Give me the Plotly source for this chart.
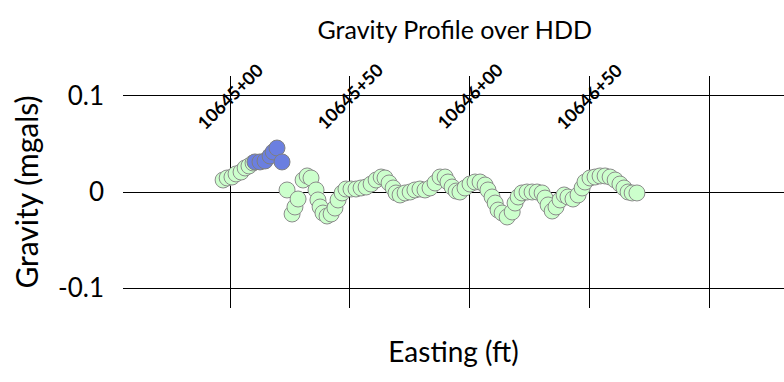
import plotly.graph_objects as go

# Station gridlines (ft) and their chainage labels
station_ft = [1064500, 1064550, 1064600, 1064650, 1064700]
station_labels = ["10645+00", "10645+50", "10646+00", "10646+50"]

# Gravity readings along the profile
easting_main = [
    1064497.1, 1064498.8, 1064500.8, 1064502.5, 1064504.6, 1064506.3, 1064507.9, 1064509.6,
    1064523.8, 1064525.9, 1064527.1, 1064528.4, 1064530.5, 1064532.2, 1064533.8, 1064535.9,
    1064536.7, 1064537.6, 1064538.8, 1064540.5, 1064542.2, 1064543.8, 1064545.1, 1064546.8,
    1064548.4, 1064550.5, 1064552.6, 1064554.7, 1064556.8, 1064558.9, 1064561.0, 1064563.1,
    1064564.7, 1064566.4, 1064568.1, 1064569.3, 1064571.0, 1064573.1, 1064575.2, 1064577.2,
    1064579.3, 1064581.4, 1064583.5, 1064585.6, 1064587.7, 1064589.8, 1064591.0, 1064592.7,
    1064594.4, 1064596.0, 1064598.1, 1064600.2, 1064602.3, 1064604.4, 1064606.5, 1064607.7,
    1064609.4, 1064610.7, 1064611.9, 1064613.6, 1064615.7, 1064617.8, 1064619.0, 1064620.3,
    1064621.9, 1064624.0, 1064626.1, 1064628.2, 1064630.3, 1064631.5, 1064632.8, 1064634.5,
    1064636.1, 1064637.8, 1064639.5, 1064641.1, 1064643.2, 1064645.3, 1064647.0, 1064648.2,
    1064650.3, 1064652.4, 1064654.5, 1064656.6, 1064658.7, 1064660.8, 1064662.8, 1064664.5,
    1064666.2, 1064667.9, 1064669.9,
]
gravity_main = [
    0.0125, 0.0146, 0.0156, 0.0188, 0.0208, 0.0250, 0.0271, 0.0302,
    0.0021, -0.0229, -0.0156, -0.0073, 0.0125, 0.0167, 0.0146, 0.0021,
    -0.0083, -0.0156, -0.0219, -0.0250, -0.0229, -0.0167, -0.0083, -0.0010,
    0.0031, 0.0031, 0.0031, 0.0042, 0.0052, 0.0083, 0.0125, 0.0156,
    0.0146, 0.0094, 0.0042, -0.0010, -0.0031, -0.0010, 0.0000, 0.0021,
    0.0031, 0.0021, 0.0042, 0.0094, 0.0156, 0.0156, 0.0104, 0.0052,
    0.0010, 0.0000, 0.0042, 0.0083, 0.0104, 0.0104, 0.0073, 0.0021,
    -0.0052, -0.0115, -0.0188, -0.0219, -0.0260, -0.0208, -0.0115, -0.0052,
    -0.0010, 0.0000, 0.0000, 0.0000, -0.0010, -0.0063, -0.0135, -0.0198,
    -0.0156, -0.0083, -0.0031, -0.0052, -0.0073, -0.0031, 0.0042, 0.0104,
    0.0146, 0.0156, 0.0167, 0.0167, 0.0156, 0.0125, 0.0083, 0.0042,
    0.0000, -0.0010, -0.0010,
]

# Highlighted anomaly readings
easting_hdd = [1064510.4, 1064512.5, 1064514.6, 1064516.7, 1064518.0, 1064519.6, 1064521.7]
gravity_hdd = [0.0313, 0.0313, 0.0323, 0.0375, 0.0417, 0.0458, 0.0313]

FONT = "Lato"

fig = go.Figure()
fig.add_trace(go.Scatter(
    x=easting_main, y=gravity_main, mode="markers",
    marker=dict(size=16, color="#ccffcc", line=dict(color="#8c8c8c", width=1)),
    showlegend=False,
))
fig.add_trace(go.Scatter(
    x=easting_hdd, y=gravity_hdd, mode="markers",
    marker=dict(size=16, color="#6b7fe0", line=dict(color="#7f7f7f", width=1)),
    showlegend=False,
))

for xs, lab in zip(station_ft, station_labels):
    fig.add_annotation(
        x=xs, y=0.1, xref="x", yref="y", text=f"<b>{lab}</b>",
        textangle=-45, showarrow=False,
        font=dict(family=FONT, size=18, color="black"),
    )

fig.update_layout(
    width=784, height=382,
    margin=dict(l=123, r=0, t=76, b=74),
    paper_bgcolor="white", plot_bgcolor="white",
    title=dict(text="Gravity Profile over HDD", x=0.58, xanchor="center",
               y=0.92, yanchor="middle",
               font=dict(family=FONT, size=25, color="black")),
    xaxis=dict(
        range=[1064455.3, 1064731.3], tickvals=station_ft, showticklabels=False,
        showgrid=True, gridcolor="black", gridwidth=1, zeroline=False,
        showline=False, ticks="",
        title=dict(text="Easting (ft)", font=dict(family=FONT, size=28, color="black"),
                   standoff=34),
    ),
    yaxis=dict(
        range=[-0.1208, 0.1208], tickvals=[-0.1, 0, 0.1], ticktext=["-0.1", "0", "0.1"],
        showgrid=True, gridcolor="black", gridwidth=1, zeroline=False,
        showline=False, ticks="", ticklabelstandoff=18,
        tickfont=dict(family=FONT, size=26, color="black"),
        title=dict(text="Gravity (mgals)", font=dict(family=FONT, size=30, color="black"),
                   standoff=10),
    ),
)

fig.write_html("out.html")
